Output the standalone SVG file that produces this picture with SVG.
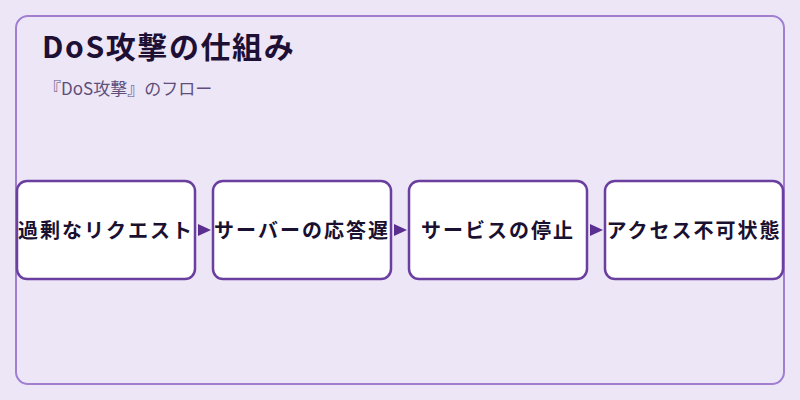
<svg xmlns="http://www.w3.org/2000/svg" width="800" height="400" viewBox="0 0 800 400">
  <defs>
    <style>
      .frame { fill: #ede6f6; stroke: #a07fd0; stroke-width: 2; }
      .box { fill: #ffffff; stroke: #6b3fa0; stroke-width: 2.5; }
      .title { font-family: "Noto Sans CJK JP", "Noto Sans", sans-serif; font-size: 30px; font-weight: bold; fill: #1e1035; letter-spacing: 1.6px; }
      .sub { font-family: "Noto Sans CJK JP", "Noto Sans", sans-serif; font-size: 17px; fill: #5e4f7a; }
      .label { font-family: "Noto Sans CJK JP", "Noto Sans", sans-serif; font-size: 20px; font-weight: bold; fill: #1a1030; text-anchor: middle; letter-spacing: 2px; }
      .arrow { fill: #5b2f90; }
    </style>
  </defs>
  <rect x="0" y="0" width="800" height="400" fill="#ede6f6"/>
  <rect class="frame" x="16" y="16" width="768" height="368" rx="12"/>
  <text class="title" x="42" y="58">DoS攻撃の仕組み</text>
  <text class="sub" x="44" y="95">『DoS攻撃』のフロー</text>
  <g id="connectors">
    <polygon class="arrow" points="198,224 211,230 198,236"/>
    <polygon class="arrow" points="394,224 407,230 394,236"/>
    <polygon class="arrow" points="590,224 603,230 590,236"/>
  </g>
  <g id="node1">
    <rect class="box" x="17" y="181" width="178" height="98" rx="10"/>
    <text class="label" x="106" y="238">過剰なリクエスト</text>
  </g>
  <g id="node2">
    <rect class="box" x="213" y="181" width="178" height="98" rx="10"/>
    <text class="label" x="302" y="238">サーバーの応答遅</text>
  </g>
  <g id="node3">
    <rect class="box" x="409" y="181" width="178" height="98" rx="10"/>
    <text class="label" x="498" y="238">サービスの停止</text>
  </g>
  <g id="node4">
    <rect class="box" x="605" y="181" width="178" height="98" rx="10"/>
    <text class="label" x="694" y="238">アクセス不可状態</text>
  </g>
</svg>
